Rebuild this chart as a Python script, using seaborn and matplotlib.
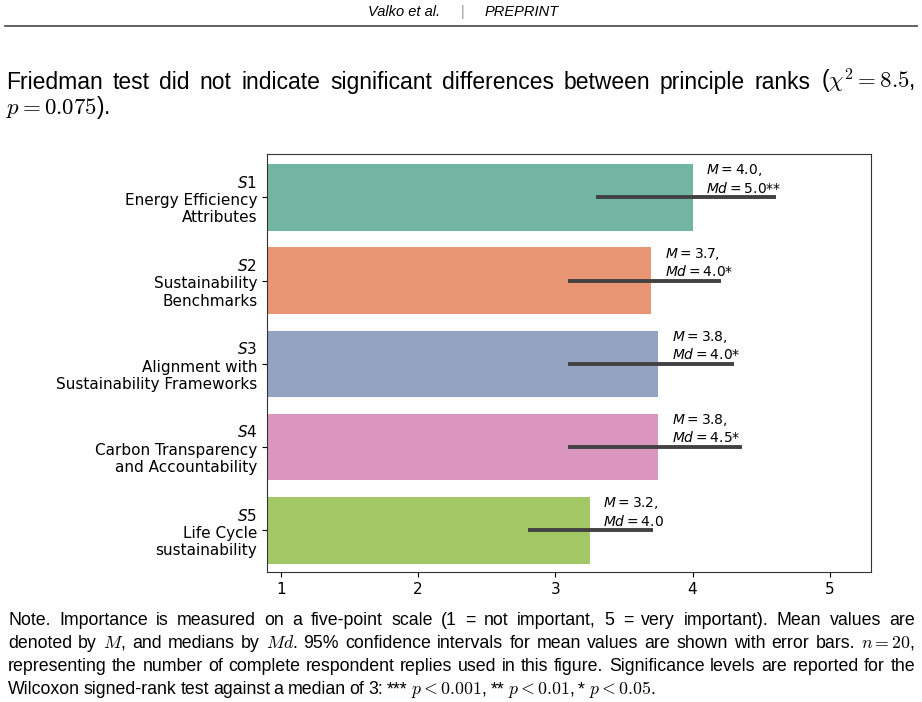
import matplotlib
matplotlib.use('Agg')
import matplotlib.pyplot as plt
import seaborn as sns
import pandas as pd

# summary values
codes = ['S1', 'S2', 'S3', 'S4', 'S5']
names = ['Energy Efficiency\nAttributes', 'Sustainability\nBenchmarks',
         'Alignment with\nSustainability Frameworks',
         'Carbon Transparency\nand Accountability', 'Life Cycle\nsustainability']
means = [4.0, 3.7, 3.75, 3.75, 3.25]
medians = [5.0, 4.0, 4.0, 4.5, 4.0]
ci_low = [3.30, 3.09, 3.09, 3.09, 2.80]
ci_high = [4.61, 4.21, 4.30, 4.36, 3.71]
stars = ['**', '*', '*', '*', '']
xticks = [1, 2, 3, 4, 5]

PAGE_FONT = ['Liberation Sans']

labels = ['$%s$\n%s' % (c, n) for c, n in zip(codes, names)]
df = pd.DataFrame({'label': labels, 'mean': means})

fig = plt.figure(figsize=(9.22, 7.02), dpi=100)
W, H = 922, 702

# page header
fig.text(404 / W, 1 - 12 / H, 'Valko et al.', ha='center', va='center',
         style='italic', fontsize=10.5, family=PAGE_FONT)
fig.text(463 / W, 1 - 12 / H, '|', ha='center', va='center',
         fontsize=10.5, color='#999999', family=PAGE_FONT)
fig.text(522 / W, 1 - 12 / H, 'PREPRINT', ha='center', va='center',
         style='italic', fontsize=10.5, family=PAGE_FONT)
fig.add_artist(plt.Line2D([5 / W, 917 / W], [1 - 26 / H, 1 - 26 / H],
                          color='#555555', lw=1.3))

renderer = fig.canvas.get_renderer()


def text_line(tokens, y, x0, x1, size, justify=True):
    arts = []
    for tok in tokens:
        t = fig.text(0, y, tok, ha='left', va='baseline', fontsize=size,
                     family=PAGE_FONT, math_fontfamily='cm')
        arts.append(t)
    widths = [a.get_window_extent(renderer).width for a in arts]
    if justify and len(arts) > 1:
        gap = (x1 - x0 - sum(widths)) / (len(arts) - 1)
    else:
        gap = size * 0.3
    x = x0
    for a, w in zip(arts, widths):
        a.set_x(x / W)
        x += w + gap


text_line('Friedman test did not indicate significant differences between '
          'principle ranks ($\\chi^2=8.5$,'.split(' '),
          1 - 89 / H, 6, 915, 16.5)
text_line(['$p=0.075$).'], 1 - 114 / H, 6, 915, 16.5, justify=False)

note = [
    'Note.  Importance is measured on a five-point scale (1 = not important, '
    '5 = very important).  Mean values are',
    'denoted by $M$, and medians by $Md$. 95% confidence intervals for mean '
    'values are shown with error bars. $n=20$,',
    'representing the number of complete respondent replies used in this '
    'figure. Significance levels are reported for the',
    'Wilcoxon signed-rank test against a median of 3: *** $p<0.001$, '
    '** $p<0.01$, * $p<0.05$.',
]
for i, line in enumerate(note):
    text_line(line.split(), 1 - (625 + 23 * i) / H, 8, 915, 12.8,
              justify=(i < len(note) - 1))

# chart
ax = fig.add_axes([267 / W, 1 - 572 / H, 604 / W, 418 / H])
sns.barplot(data=df, x='mean', y='label', hue='label', palette='Set2',
            legend=False, ax=ax)
ax.hlines(range(len(means)), ci_low, ci_high, color='#424242', lw=2.8)
for i, (m, md, s) in enumerate(zip(means, medians, stars)):
    ax.text(m + 0.1, i - 0.22, '$M = %.1f$,\n$Md = %.1f$%s' % (m, md, s),
            ha='left', va='center', fontsize=10)
ax.set_xlim(0.9, 5.3)
ax.set_ylim(len(means) - 0.5, -0.52)
ax.set_xticks(xticks)
ax.set_xlabel('')
ax.set_ylabel('')
ax.tick_params(labelsize=11)
for sp in ax.spines.values():
    sp.set_color('#333333')

fig.savefig('out.png', dpi=100)
